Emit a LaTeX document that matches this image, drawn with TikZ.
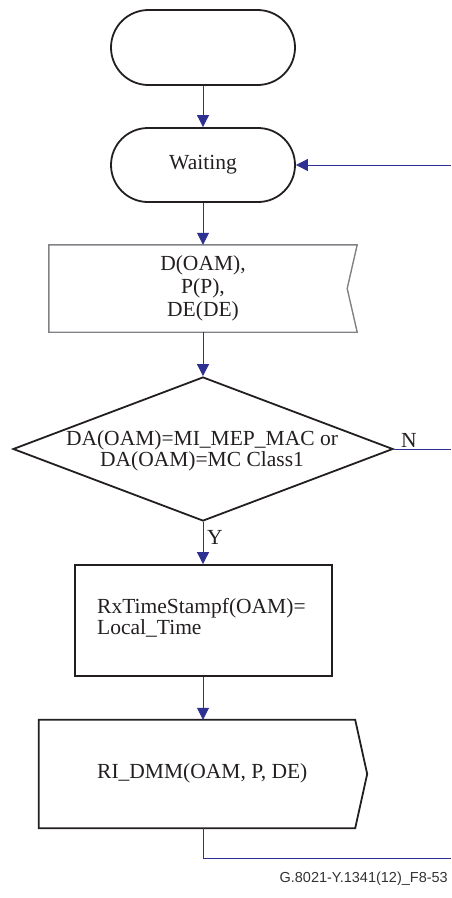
\documentclass[tikz,border=0pt]{standalone}
\usepackage{fontspec}
\setmainfont{Liberation Serif}
\newfontfamily\labelfont{Liberation Sans}
\usetikzlibrary{shapes.misc,shapes.geometric,arrows.meta,calc}
\definecolor{linecol}{HTML}{231F20}
\definecolor{graycol}{HTML}{808285}
\definecolor{conncol}{HTML}{2E3192}
\begin{document}
\begin{tikzpicture}[x=1pt,y=-1pt,
  every node/.style={font=\fontsize{21.5}{21}\selectfont, text=linecol},
  term/.style={rounded rectangle, draw=linecol, line width=1.8pt, minimum width=184pt, minimum height=75pt, inner sep=0pt},
  boxnode/.style={rectangle, inner sep=0pt},
  outline/.style={draw=linecol, line width=1.8pt},
  conn/.style={draw=conncol, line width=0.8pt},
  arr/.style={conn, -{Triangle[length=12pt,width=12pt,fill=conncol]}},
  lbl/.style={inner sep=0pt}
]
\useasboundingbox (0,0) rectangle (451,898);

% nodes
\node[term] (start) at (203,47.5) {};
\node[term, minimum height=74pt] (wait) at (203,165) {Waiting};
\node[boxnode, minimum width=308pt, minimum height=87pt] (rx) at (203,288.5) {};
\node[diamond, draw=linecol, line width=1.8pt, minimum width=380pt, minimum height=144pt, inner sep=0pt] (dec) at (203,449) {};
\node[boxnode, outline, minimum width=257pt, minimum height=111pt] (proc) at (203.5,620.5) {};
\node[boxnode, minimum width=316pt, minimum height=108pt] (send) at (197,774) {};

% receive-signal shape
\draw[draw=graycol, line width=1.4pt] (rx.north west) -- (rx.north east) -- ($(rx.east)+(-10,0)$) -- (rx.south east) -- (rx.south west) -- cycle;
% send-signal shape
\draw[outline] (send.north west) -- (send.north east) -- ($(send.east)+(12,0)$) -- (send.south east) -- (send.south west) -- cycle;

% texts
\node[lbl, align=center, font=\fontsize{21.5}{23}\selectfont] (rxt) at (rx.center) {D(OAM),\\P(P),\\DE(DE)};
\node[lbl, align=center] (dect) at (202,451) {DA(OAM)=MI\_MEP\_MAC or\\DA(OAM)=MC Class1};
\node[lbl, align=left, anchor=west] (proct) at (97,617.5) {RxTimeStampf(OAM)=\\Local\_Time};
\node[lbl, anchor=west] (sendt) at (97,773) {RI\_DMM(OAM, P, DE)};
\node[lbl] (nlab) at (409,440) {N};
\node[lbl] (ylab) at (215,537) {Y};
\node[lbl, anchor=east, font=\labelfont\fontsize{14.5}{14.5}\selectfont, text=black!80] (fig) at (448,879) {G.8021-Y.1341(12)\_F8-53};

% connectors
\coordinate (fbT) at (451,165);
\coordinate (fbN) at (451,449);
\coordinate (bend) at (203,858);
\coordinate (fbB) at (451,858);
\draw[arr] (start.south) -- (wait.north);
\draw[arr] (fbT) -- (wait.east);
\draw[arr] (wait.south) -- (rx.north);
\draw[arr] (rx.south) -- (dec.north);
\draw[conn] (dec.east) -- (fbN);
\draw[arr] (dec.south) -- (dec.south |- proc.north);
\draw[arr] (dec.south |- proc.south) -- (dec.south |- send.north);
\draw[conn] (dec.south |- send.south) -- (bend) -- (fbB);
\end{tikzpicture}
\end{document}
